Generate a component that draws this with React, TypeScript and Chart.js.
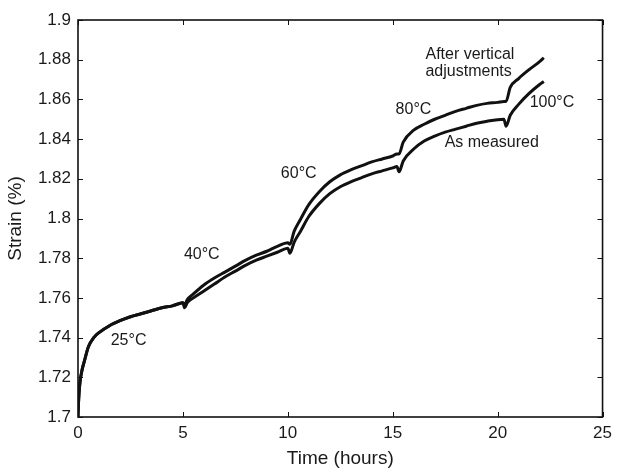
import React, { useEffect, useRef } from "react";
import { Chart, registerables } from "chart.js";

Chart.register(...registerables);

// Time (hours)
const timeHours = [
  0, 0.02, 0.05, 0.1, 0.2, 0.3, 0.5, 0.75, 1.0, 1.5, 2.0, 2.5, 3.0, 3.5, 4.0, 4.5, 5.0,
  5.08, 5.2, 5.5, 6.0, 6.5, 7.0, 7.5, 8.0, 8.5, 9.0, 9.5, 10.0,
  10.1, 10.3, 10.6, 11.0, 11.5, 12.0, 12.5, 13.0, 13.5, 14.0, 14.5, 15.0, 15.2,
  15.3, 15.5, 16.0, 16.5, 17.0, 17.5, 18.0, 18.5, 19.0, 19.5, 20.0, 20.3,
  20.4, 20.6, 21.0, 21.5, 22.0, 22.2,
];

// Strain (%) as measured
const asMeasured = [
  1.7, 1.706, 1.712, 1.718, 1.724, 1.728, 1.7355, 1.74, 1.7425, 1.746, 1.7485, 1.7505, 1.752, 1.7535, 1.755, 1.756, 1.7575,
  1.755, 1.7575, 1.76, 1.7635, 1.767, 1.7705, 1.7735, 1.7765, 1.779, 1.781, 1.783, 1.785,
  1.7825, 1.788, 1.7935, 1.801, 1.8075, 1.8125, 1.816, 1.8185, 1.8205, 1.8225, 1.824, 1.8255, 1.8262,
  1.8235, 1.829, 1.835, 1.839, 1.8415, 1.8435, 1.845, 1.8465, 1.848, 1.849, 1.8498, 1.85,
  1.8465, 1.852, 1.8575, 1.863, 1.8675, 1.869,
];

// Strain (%) after vertical adjustments
const afterAdjustments = [
  1.7, 1.706, 1.712, 1.718, 1.724, 1.728, 1.7355, 1.74, 1.7425, 1.746, 1.7485, 1.7505, 1.752, 1.7535, 1.755, 1.756, 1.7575,
  1.7565, 1.759, 1.762, 1.7665, 1.77, 1.773, 1.776, 1.779, 1.7815, 1.7835, 1.786, 1.7878,
  1.787, 1.7935, 1.7995, 1.807, 1.8135, 1.8185, 1.822, 1.8245, 1.8265, 1.8285, 1.83, 1.8315, 1.8325,
  1.8325, 1.8385, 1.8445, 1.8475, 1.85, 1.852, 1.854, 1.8555, 1.857, 1.858, 1.8585, 1.859,
  1.859, 1.866, 1.8705, 1.875, 1.879, 1.881,
];

// Text labels in the plot (data coordinates)
const noteTexts = ["25°C", "40°C", "60°C", "80°C", "100°C", "After vertical", "adjustments", "As measured"];
const noteTimes = [2.41, 5.9, 10.52, 15.99, 22.59, 16.56, 16.56, 19.72];
const noteStrains = [1.7383, 1.7816, 1.8224, 1.8547, 1.8582, 1.8824, 1.8741, 1.838];
const noteAligns = ["center", "center", "center", "center", "center", "left", "left", "center"];

const FONT = '"Liberation Sans", Arial, Helvetica, sans-serif';

const framePlugin = {
  id: "frameTicks",
  afterDraw(chart: any) {
    const { ctx, chartArea, scales } = chart;
    const { left, right, top, bottom } = chartArea;
    ctx.save();
    ctx.strokeStyle = "#111";
    ctx.lineWidth = 1;
    const len = 5;
    ctx.beginPath();
    scales.x.ticks.forEach((t: any) => {
      const px = Math.round(scales.x.getPixelForValue(t.value)) + 0.5;
      ctx.moveTo(px, bottom);
      ctx.lineTo(px, bottom - len);
      ctx.moveTo(px, top);
      ctx.lineTo(px, top + len);
    });
    scales.y.ticks.forEach((t: any) => {
      const py = Math.round(scales.y.getPixelForValue(t.value)) + 0.5;
      ctx.moveTo(left, py);
      ctx.lineTo(left + len, py);
      ctx.moveTo(right, py);
      ctx.lineTo(right - len, py);
    });
    ctx.stroke();
    ctx.lineWidth = 1.6;
    ctx.strokeRect(left, top, right - left, bottom - top);
    ctx.restore();
  },
  afterDatasetsDraw(chart: any) {
    const { ctx, scales } = chart;
    ctx.save();
    ctx.fillStyle = "#1a1a1a";
    ctx.font = `16px ${FONT}`;
    ctx.textBaseline = "middle";
    noteTexts.forEach((txt, i) => {
      ctx.textAlign = noteAligns[i];
      ctx.fillText(txt, scales.x.getPixelForValue(noteTimes[i]), scales.y.getPixelForValue(noteStrains[i]));
    });
    ctx.restore();
  },
};

export default function App() {
  const ref = useRef<HTMLCanvasElement>(null);
  useEffect(() => {
    if (!ref.current) return;
    const mk = (vals: number[]) => timeHours.map((t, i) => ({ x: t, y: vals[i] }));
    const chart = new Chart(ref.current, {
      type: "line",
      data: {
        datasets: [
          {
            label: "After vertical adjustments",
            data: mk(afterAdjustments),
            borderColor: "#111",
            borderWidth: 3,
            pointRadius: 0,
            cubicInterpolationMode: "monotone",
            fill: false,
          },
          {
            label: "As measured",
            data: mk(asMeasured),
            borderColor: "#111",
            borderWidth: 3,
            pointRadius: 0,
            cubicInterpolationMode: "monotone",
            fill: false,
          },
        ],
      },
      options: {
        animation: false,
        responsive: false,
        maintainAspectRatio: false,
        layout: { padding: { left: 0, top: 20, right: 10, bottom: 0 } },
        plugins: { legend: { display: false }, tooltip: { enabled: false } },
        scales: {
          x: {
            type: "linear",
            min: 0,
            max: 25,
            ticks: { stepSize: 5, padding: 6, color: "#1a1a1a", font: { size: 17, family: FONT }, maxRotation: 0 },
            grid: { display: false, drawTicks: false },
            border: { display: false },
            title: { display: true, text: "Time (hours)", color: "#1a1a1a", font: { size: 19, family: FONT }, padding: { top: 0, bottom: 0 } },
            afterFit: (s: any) => { s.height = 53; },
          },
          y: {
            type: "linear",
            min: 1.7,
            max: 1.9,
            ticks: {
              stepSize: 0.02,
              padding: 7,
              color: "#1a1a1a",
              font: { size: 17, family: FONT },
              callback: (v: any) => String(parseFloat(Number(v).toFixed(2))),
            },
            grid: { display: false, drawTicks: false },
            border: { display: false },
            title: { display: true, text: "Strain (%)", color: "#1a1a1a", font: { size: 19, family: FONT }, padding: { top: 4, bottom: 0 } },
            afterFit: (s: any) => { s.width = 78; },
          },
        },
      },
      plugins: [framePlugin],
    } as any);
    return () => chart.destroy();
  }, []);
  return (
    <div style={{ position: "absolute", left: 0, top: 0, width: 618, height: 470, background: "#fff" }}>
      <canvas ref={ref} width={618} height={470} />
    </div>
  );
}
